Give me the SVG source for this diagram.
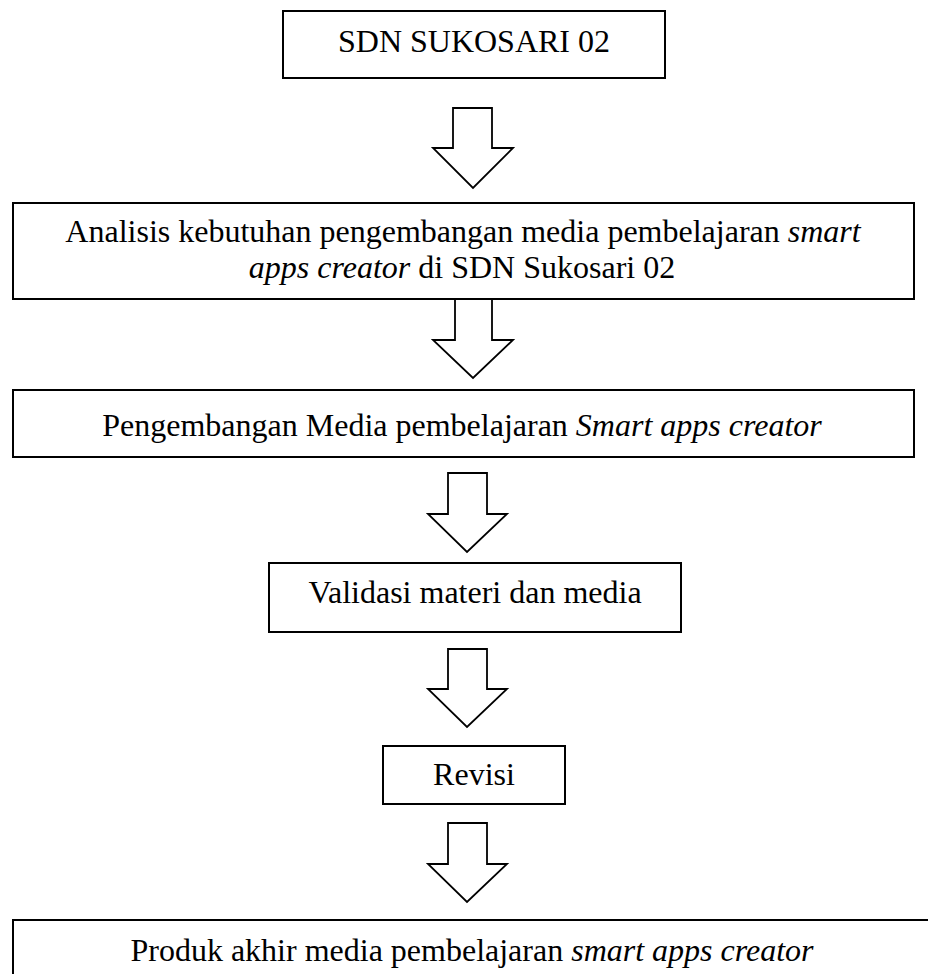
<svg xmlns="http://www.w3.org/2000/svg" width="928" height="974" viewBox="0 0 928 974">
<style>
.box{fill:#fff;stroke:#000;stroke-width:2}
.arr{fill:#fff;stroke:#000;stroke-width:1.8;stroke-linejoin:miter}
text{font-family:"Liberation Serif","Times New Roman",serif;font-size:32px;fill:#000;text-anchor:middle}
.i{font-style:italic}
</style>
<rect width="928" height="974" fill="#fff"/>
<g id="connectors">
<polygon class="arr" points="453,108 492,108 492,148 513,148 473,188 433,148 453,148"/>
<polygon class="arr" points="455,299 492,299 492,340 513,340 473,378 433,340 455,340"/>
<polygon class="arr" points="448,473 487,473 487,514 507,514 467,552 428,514 448,514"/>
<polygon class="arr" points="448,649 487,649 487,689 507,689 467,727 428,689 448,689"/>
<polygon class="arr" points="448,823 487,823 487,864 507,864 467,902 428,864 448,864"/>
</g>
<g id="n1">
<rect class="box" x="283" y="11" width="382" height="67"/>
<text x="474" y="52">SDN SUKOSARI 02</text>
</g>
<g id="n2">
<rect class="box" x="13" y="203" width="901" height="96"/>
<text x="463" y="242">Analisis kebutuhan pengembangan media pembelajaran <tspan class="i">smart</tspan></text>
<text x="462" y="278"><tspan class="i">apps creator</tspan> di SDN Sukosari 02</text>
</g>
<g id="n3">
<rect class="box" x="13" y="390" width="901" height="67"/>
<text x="462" y="436">Pengembangan Media pembelajaran <tspan class="i">Smart apps creator</tspan></text>
</g>
<g id="n4">
<rect class="box" x="269" y="563" width="412" height="69"/>
<text x="475" y="603">Validasi materi dan media</text>
</g>
<g id="n5">
<rect class="box" x="383" y="746" width="182" height="58"/>
<text x="474" y="785">Revisi</text>
</g>
<g id="n6">
<rect class="box" x="13" y="920" width="930" height="70"/>
<text x="472" y="961">Produk akhir media pembelajaran <tspan class="i">smart apps creator</tspan></text>
</g>
</svg>
